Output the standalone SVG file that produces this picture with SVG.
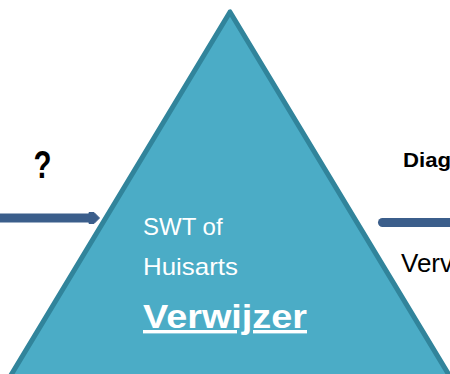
<svg xmlns="http://www.w3.org/2000/svg" width="450" height="374" viewBox="0 0 450 374">
<style>
.lbl{font-family:"Liberation Sans",Arial,sans-serif;fill:#000}
.in{font-family:"Liberation Sans",Arial,sans-serif;fill:#fff}
.conn{stroke:#3B5E8B;stroke-width:9;fill:none}
</style>
<rect width="450" height="374" fill="#fff"/>
<g id="verwijzer">
<polygon points="230,12 8,380 452,380" fill="#4BACC6" stroke="#31849B" stroke-width="5" stroke-linejoin="round"/>
<text class="in" x="143" y="235" font-size="24">SWT of</text>
<text class="in" x="143" y="275" font-size="24" textLength="95" lengthAdjust="spacingAndGlyphs">Huisarts</text>
<text class="in" x="143" y="328" font-size="34" font-weight="bold" textLength="164" lengthAdjust="spacingAndGlyphs" text-decoration="underline">Verwijzer</text>
</g>
<g id="connectors">
<line class="conn" x1="0" y1="218" x2="92" y2="218" stroke-width="8"/>
<polygon points="89,212.5 94,212.5 99.5,218 94,223.5 89,223.5" fill="#3B5E8B" stroke="#3B5E8B" stroke-width="1" stroke-linejoin="round"/>
<line class="conn" x1="382.5" y1="222.5" x2="460" y2="222.5" stroke-linecap="round"/>
</g>
<g id="labels">
<text class="lbl" x="42.5" y="178" font-size="38" font-weight="bold" text-anchor="middle" textLength="18" lengthAdjust="spacingAndGlyphs">?</text>
<text class="lbl" x="403" y="167" font-size="20" font-weight="bold" textLength="48" lengthAdjust="spacingAndGlyphs">Diag</text>
<text class="lbl" x="401" y="272" font-size="26">Verv</text>
</g>
</svg>
